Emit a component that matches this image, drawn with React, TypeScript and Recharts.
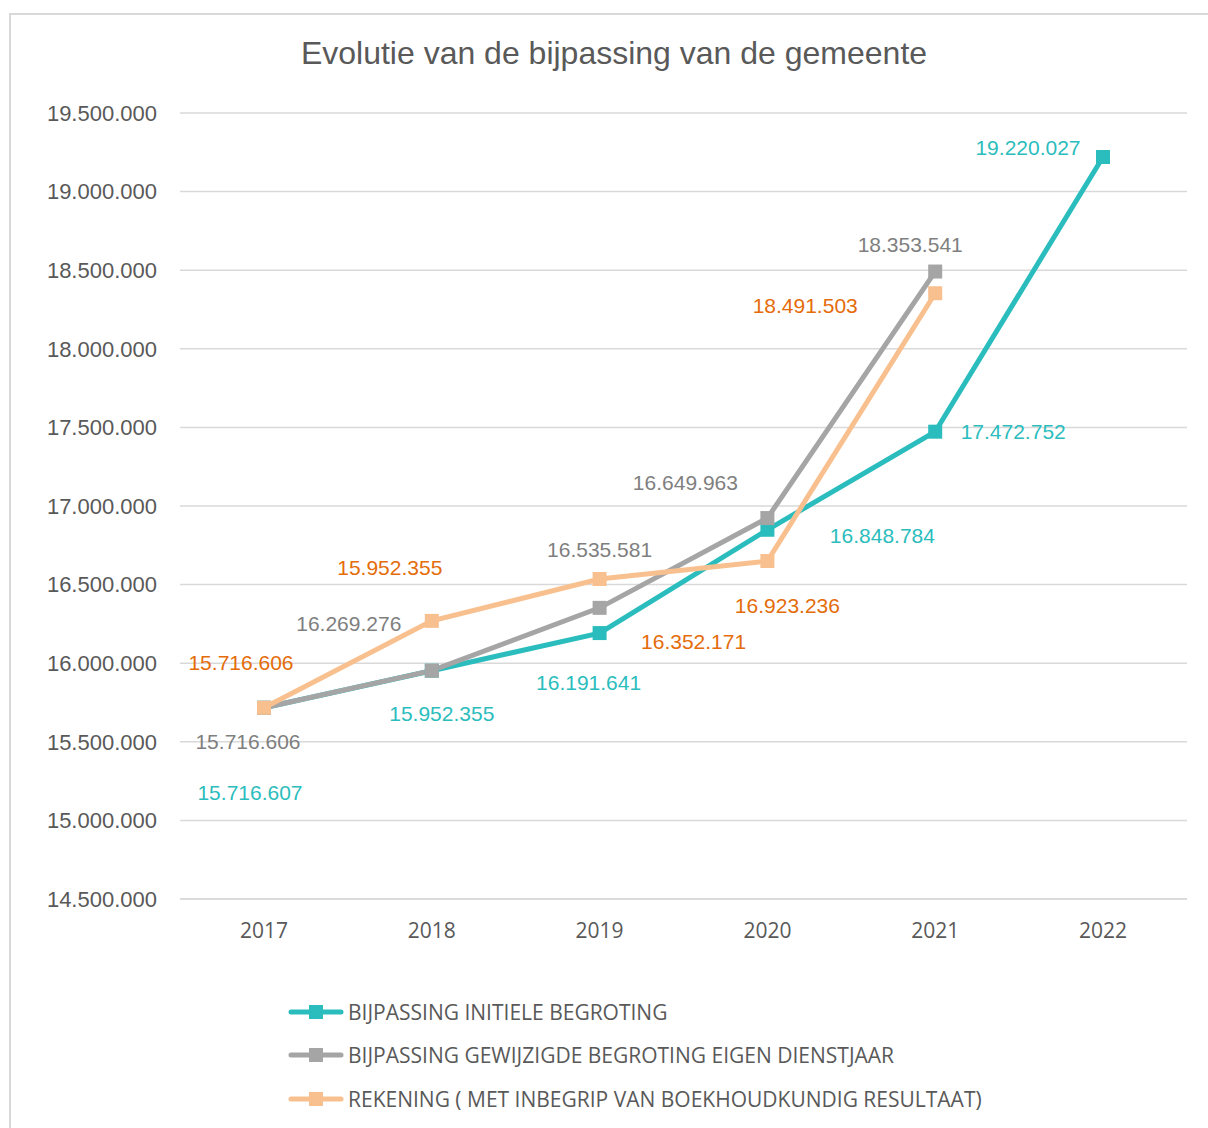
import { LineChart, Line, XAxis, YAxis, CartesianGrid } from "recharts";

const years = ["2017", "2018", "2019", "2020", "2021", "2022"];
const initieel = [15716607, 15952355, 16191641, 16848784, 17472752, 19220027];
const gewijzigd = [15716606, 15952355, 16352171, 16923236, 18491503, null];
const rekening = [15716606, 16269276, 16535581, 16649963, 18353541, null];
// the labels in the original chart do not always match the plotted value
const initieelLabels = [15716607, 15952355, 16191641, 16848784, 17472752, 19220027];
const gewijzigdLabels = [15716606, 16269276, 16535581, 16649963, 18353541];
const rekeningLabels = [15716606, 15952355, 16352171, 16923236, 18491503];
const yTicks = [14500000, 15000000, 15500000, 16000000, 16500000, 17000000, 17500000, 18000000, 18500000, 19000000, 19500000];

const data = years.map((year, i) => ({
  year,
  initieel: initieel[i],
  gewijzigd: gewijzigd[i],
  rekening: rekening[i],
}));

// manual label placement (dx, dy from the point)
const tealOffsets = [[-14, 85], [10, 43], [-11, 49], [115, 6], [78, 0], [-75, -10]];
const greyOffsets = [[-16, 34], [-83, -47], [0, -58], [-82, -36], [-25, -27]];
const orangeOffsets = [[-23, -45], [-42, -53], [94, 62], [20, 44], [-130, 12]];

const TEAL = "#2bbdbd";
const GREY = "#a5a5a5";
const PEACH = "#f9c08f";
const ORANGE_TXT = "#e46c0a";
const GREY_TXT = "#7f7f7f";
const AXIS_TXT = "#595959";

const fmt = (v: number) => String(v).replace(/\B(?=(\d{3})+(?!\d))/g, ".");

const squareDot = (color: string) => (p: any) => {
  if (p.cy == null || p.value == null) return <g key={p.key ?? p.index} />;
  return (
    <rect
      key={p.key ?? p.index}
      x={p.cx - 7}
      y={p.cy - 7}
      width={14}
      height={14}
      fill={color}
    />
  );
};

const pointLabel = (texts: number[], offsets: number[][], color: string) => (p: any) => {
  const i = p.index;
  if (p.value == null || texts[i] == null) return <g key={i} />;
  return (
    <text
      key={i}
      x={p.x + offsets[i][0]}
      y={p.y + offsets[i][1]}
      dy="0.36em"
      textAnchor="middle"
      fill={color}
      fontSize={21}
      fontFamily="'Liberation Sans', Arial, sans-serif"
    >
      {fmt(texts[i])}
    </text>
  );
};

const legendItems = [
  { name: "BIJPASSING INITIELE BEGROTING", color: TEAL },
  { name: "BIJPASSING GEWIJZIGDE BEGROTING EIGEN DIENSTJAAR", color: GREY },
  { name: "REKENING ( MET INBEGRIP VAN BOEKHOUDKUNDIG RESULTAAT)", color: PEACH },
];

export default function App() {
  return (
    <div
      style={{
        position: "absolute",
        left: 0,
        top: 0,
        width: 1208,
        height: 1128,
        overflow: "hidden",
        background: "#fff",
      }}
    >
      <div
        style={{
          position: "absolute",
          left: 9,
          top: 13,
          width: 1230,
          height: 1140,
          border: "2px solid #d9d9d9",
          boxSizing: "border-box",
        }}
      />
      <div
        style={{
          position: "absolute",
          left: 0,
          top: 35,
          width: 1228,
          textAlign: "center",
          fontFamily: "'Liberation Sans', Arial, sans-serif",
          fontSize: 32,
          color: AXIS_TXT,
        }}
      >
        Evolutie van de bijpassing van de gemeente
      </div>
      <div style={{ position: "absolute", left: 0, top: 0 }}>
        <LineChart
          width={1208}
          height={960}
          data={data}
          margin={{ top: 113, right: 21, bottom: 31, left: 0 }}
        >
          <CartesianGrid vertical={false} stroke="#d9d9d9" strokeWidth={1.5} />
          <XAxis
            dataKey="year"
            padding={{ left: 84, right: 84 }}
            axisLine={{ stroke: "#d9d9d9", strokeWidth: 1.5 }}
            tickLine={false}
            tickMargin={18}
            height={30}
            tick={{ fill: AXIS_TXT, fontSize: 21, fontFamily: "'Open Sans', sans-serif" }}
          />
          <YAxis
            width={180}
            domain={[14500000, 19500000]}
            ticks={yTicks}
            interval={0}
            axisLine={false}
            tickLine={false}
            tickMargin={17}
            tickFormatter={fmt}
            tick={{ fill: AXIS_TXT, fontSize: 22, fontFamily: "'Liberation Sans', Arial, sans-serif" }}
          />
          <Line
            dataKey="initieel"
            stroke={TEAL}
            strokeWidth={5}
            dot={squareDot(TEAL)}
            activeDot={false}
            label={pointLabel(initieelLabels, tealOffsets, TEAL)}
            isAnimationActive={false}
          />
          <Line
            dataKey="gewijzigd"
            stroke={GREY}
            strokeWidth={5}
            dot={squareDot(GREY)}
            activeDot={false}
            label={pointLabel(gewijzigdLabels, greyOffsets, GREY_TXT)}
            isAnimationActive={false}
          />
          <Line
            dataKey="rekening"
            stroke={PEACH}
            strokeWidth={5}
            dot={squareDot(PEACH)}
            activeDot={false}
            label={pointLabel(rekeningLabels, orangeOffsets, ORANGE_TXT)}
            isAnimationActive={false}
          />
        </LineChart>
      </div>
      <div style={{ position: "absolute", left: 288, top: 990 }}>
        {legendItems.map((item) => (
          <div
            key={item.name}
            style={{ display: "flex", alignItems: "center", height: 43.5 }}
          >
            <svg width={58} height={16} style={{ marginRight: 2 }}>
              <line
                x1={3}
                y1={8}
                x2={53}
                y2={8}
                stroke={item.color}
                strokeWidth={5}
                strokeLinecap="round"
              />
              <rect x={21} y={1} width={14} height={14} fill={item.color} />
            </svg>
            <span
              style={{
                fontFamily: "'Open Sans', sans-serif",
                fontSize: 21,
                color: AXIS_TXT,
                whiteSpace: "nowrap",
              }}
            >
              {item.name}
            </span>
          </div>
        ))}
      </div>
    </div>
  );
}
